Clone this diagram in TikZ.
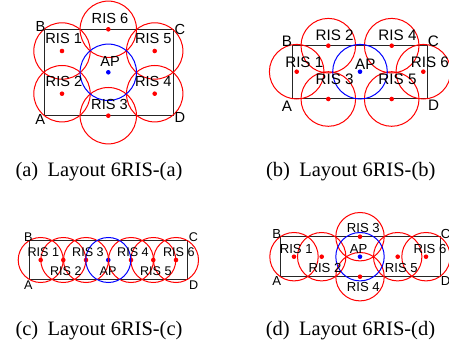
\documentclass[tikz,border=0pt]{standalone}
\usepackage{fontspec}
\setmainfont{Liberation Serif}
\newfontfamily\labfont{Liberation Sans}
\usetikzlibrary{positioning}
\tikzstyle{ris}=[circle,fill=red,minimum size=4.6pt,inner sep=0pt]
\tikzstyle{ap}=[circle,fill=blue,minimum size=4.6pt,inner sep=0pt]
\tikzstyle{cover}=[draw=red,line width=1pt]
\tikzstyle{apcover}=[draw=blue,line width=1pt]
\tikzstyle{room}=[draw=black!85,line width=1pt]
\tikzstyle{caption}=[anchor=base,inner sep=0pt,font=\fontsize{20.5}{24}\selectfont]
\tikzset{tag/.style={inner sep=0pt,font=\labfont\fontsize{#1}{#1}\selectfont}}

\begin{document}
\begin{tikzpicture}[x=1pt,y=-1pt]
\useasboundingbox (0,0) rectangle (449,347);
\clip (0,0) rectangle (449,347);

% Layout (a): room, RIS and AP
\coordinate (aA) at (44,115.7);
\coordinate (aB) at (44,29.3);
\coordinate (aC) at (173,29.3);
\coordinate (aD) at (173,115.7);
\path[room] (aA) -- (aB) -- (aC) -- (aD) -- cycle;

\foreach \pos/\name in {{(62,51)/a1},{(62,93.7)/a2},{(108.3,115.7)/a3},{(154.7,93.7)/a4},{(154.7,51)/a5},{(108.3,29.3)/a6}}
\node[ris] (\name) at \pos {};
\node[ap] (aAP) at (108.3,72.3) {};

\foreach \name in {a1,a2,a3,a4,a5,a6}
\draw[cover] (\name.center) circle (28.2pt);
\draw[apcover] (aAP.center) circle (28.2pt);

\foreach \pos/\txt/\name in {{(40.5,26)/B/aBl},{(180,29.2)/C/aCl},{(40.3,119)/A/aAl},{(180,117.3)/D/aDl},
  {(63.7,38.8)/RIS 1/a1l},{(64,81.7)/RIS 2/a2l},{(109.5,104.3)/RIS 3/a3l},{(153.3,81.7)/RIS 4/a4l},
  {(153.3,38.8)/RIS 5/a5l},{(110,18)/RIS 6/a6l},{(110,61.2)/AP/aAPl}}
\node[tag=14.6] (\name) at \pos {\txt};

% Layout (b)
\coordinate (bA) at (292.7,99);
\coordinate (bB) at (292.7,45.7);
\coordinate (bC) at (427.3,45.7);
\coordinate (bD) at (427.3,99);
\path[room] (bA) -- (bB) -- (bC) -- (bD) -- cycle;

\foreach \pos/\name in {{(296.7,71.7)/b1},{(328.3,45.7)/b2},{(328.3,99)/b3},{(391.7,45.7)/b4},{(391.7,99)/b5},{(423.3,71.7)/b6}}
\node[ris] (\name) at \pos {};
\node[ap] (bAP) at (360,71.7) {};

\foreach \name in {b1,b2,b3,b4,b5,b6}
\draw[cover] (\name.center) circle (27.3pt);
\draw[apcover] (bAP.center) circle (27.3pt);

\foreach \pos/\txt/\name in {{(287,41)/B/bBl},{(433.3,41.3)/C/bCl},{(287,106)/A/bAl},{(433.7,105.3)/D/bDl},
  {(304.3,62.5)/RIS 1/b1l},{(334.7,35)/RIS 2/b2l},{(334.7,79.5)/RIS 3/b3l},{(397.5,35)/RIS 4/b4l},
  {(397.5,79.5)/RIS 5/b5l},{(429.8,62.5)/RIS 6/b6l},{(365.3,63.8)/AP/bAPl}}
\node[tag=15.2] (\name) at \pos {\txt};

% Layout (c)
\coordinate (cA) at (29.3,279.3);
\coordinate (cB) at (29.3,240.7);
\coordinate (cC) at (187.3,240.7);
\coordinate (cD) at (187.3,279.3);
\path[room] (cA) -- (cB) -- (cC) -- (cD) -- cycle;

\foreach \pos/\name in {{(40.7,260)/c1},{(63.3,260)/c2},{(86,260)/c3},{(131,260)/c4},{(153.3,260)/c5},{(176,260)/c6}}
\node[ris] (\name) at \pos {};
\node[ap] (cAP) at (108.3,260) {};

\foreach \name in {c1,c2,c3,c4,c5,c6}
\draw[cover] (\name.center) circle (22.5pt);
\draw[apcover] (cAP.center) circle (22.5pt);

\foreach \pos/\txt/\name in {{(28.3,237.2)/B/cBl},{(193.3,237.5)/C/cCl},{(28.3,284.7)/A/cAl},{(193.7,284.7)/D/cDl},
  {(43.3,251.7)/RIS 1/c1l},{(65.8,271)/RIS 2/c2l},{(88,251.7)/RIS 3/c3l},{(133,251.7)/RIS 4/c4l},
  {(155.8,271)/RIS 5/c5l},{(178.8,251.7)/RIS 6/c6l},{(108,271)/AP/cAPl}}
\node[tag=12.6] (\name) at \pos {\txt};

% Layout (d)
\coordinate (dA) at (280,276.7);
\coordinate (dB) at (280,236.7);
\coordinate (dC) at (440,236.7);
\coordinate (dD) at (440,276.7);
\path[room] (dA) -- (dB) -- (dC) -- (dD) -- cycle;

\foreach \pos/\name in {{(294,256.7)/d1},{(321.7,256.7)/d2},{(360,236.7)/d3},{(360,276.7)/d4},{(397.7,256.7)/d5},{(426,256.7)/d6}}
\node[ris] (\name) at \pos {};
\node[ap] (dAP) at (360,256.7) {};

\foreach \name in {d1,d2,d3,d4,d5,d6}
\draw[cover] (\name.center) circle (24.2pt);
\draw[apcover] (dAP.center) circle (24.2pt);

\foreach \pos/\txt/\name in {{(276.7,233.8)/B/dBl},{(445.7,233.8)/C/dCl},{(276.7,281.3)/A/dAl},{(445.7,281.3)/D/dDl},
  {(296.2,248.7)/RIS 1/d1l},{(325,268)/RIS 2/d2l},{(363.3,228)/RIS 3/d3l},{(363.3,287.2)/RIS 4/d4l},
  {(401.3,268)/RIS 5/d5l},{(430,248.7)/RIS 6/d6l},{(358.7,248.7)/AP/dAPl}}
\node[tag=13.1] (\name) at \pos {\txt};

% Captions
\node[caption] (capa) at (99,176.7) {(a)\hspace{9.3pt}Layout 6RIS-(a)};
\node[caption] (capb) at (350.8,176.7) {(b)\hspace{9.3pt}Layout 6RIS-(b)};
\node[caption] (capc) at (99,335) {(c)\hspace{9.3pt}Layout 6RIS-(c)};
\node[caption] (capd) at (350.5,335) {(d)\hspace{9.3pt}Layout 6RIS-(d)};

\end{tikzpicture}
\end{document}
